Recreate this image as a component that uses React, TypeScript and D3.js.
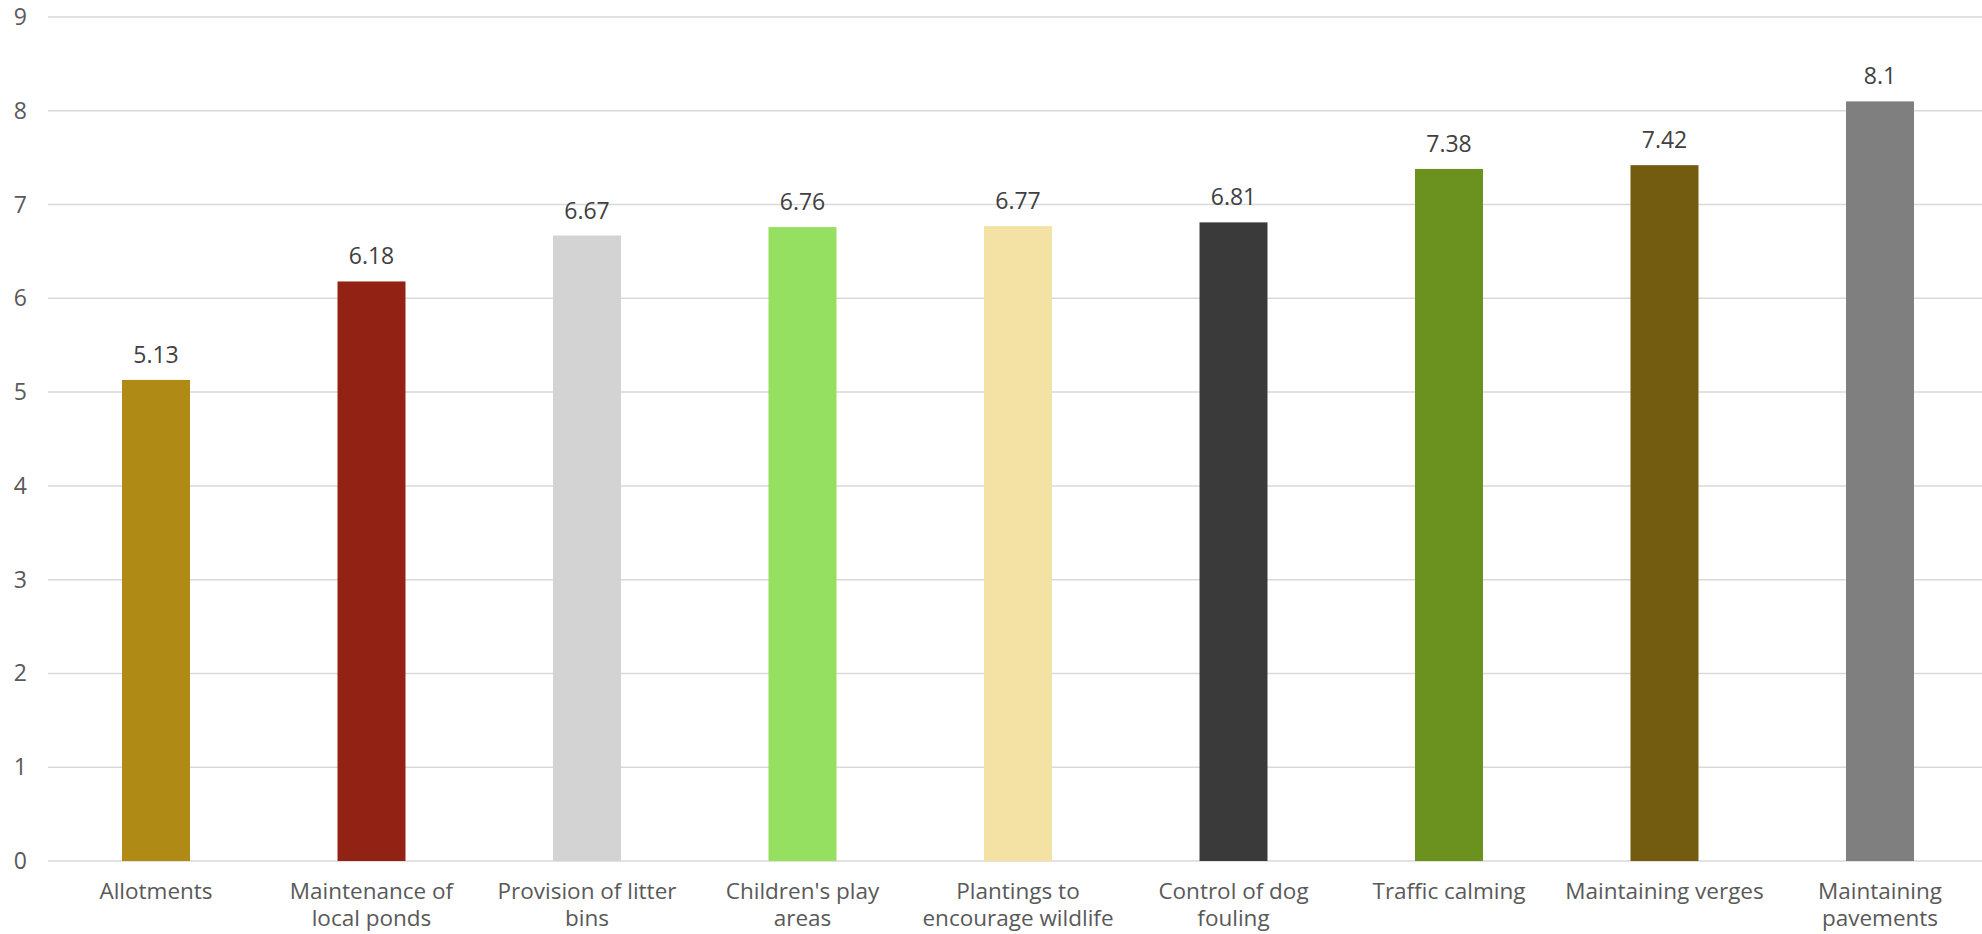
import React from "react";
import * as d3 from "d3";

const categories: string[][] = [
  ["Allotments"],
  ["Maintenance of", "local ponds"],
  ["Provision of litter", "bins"],
  ["Children's play", "areas"],
  ["Plantings to", "encourage wildlife"],
  ["Control of dog", "fouling"],
  ["Traffic calming"],
  ["Maintaining verges"],
  ["Maintaining", "pavements"],
];
const values: number[] = [5.13, 6.18, 6.67, 6.76, 6.77, 6.81, 7.38, 7.42, 8.1];
const valueLabels: string[] = ["5.13", "6.18", "6.67", "6.76", "6.77", "6.81", "7.38", "7.42", "8.1"];
const colors: string[] = [
  "#AF8B15",
  "#922314",
  "#D3D3D3",
  "#96E061",
  "#F4E2A4",
  "#3A3A3A",
  "#6B911E",
  "#735B0F",
  "#7F7F7F",
];
const yTicks: number[] = [0, 1, 2, 3, 4, 5, 6, 7, 8, 9];

const W = 1982;
const H = 934;
const FONT = "'Open Sans', 'DejaVu Sans', sans-serif";

export default function App() {
  const idx = categories.map((_, i) => String(i));
  const x = d3.scaleBand<string>().domain(idx).range([48.25, 1987.75]).paddingInner(0.6845).paddingOuter(0.34225);
  const y = d3.scaleLinear().domain([0, 9]).range([861, 17]);

  return (
    <svg
      width={W}
      height={H}
      style={{ position: "absolute", left: 0, top: 0, background: "#fff" }}
      fontFamily={FONT}
    >
      {yTicks.map((t) => (
        <g key={t}>
          <line x1={48} x2={W} y1={y(t)} y2={y(t)} stroke="#D9D9D9" strokeWidth={1.5} />
          <text x={27} y={y(t)} dy="0.35em" textAnchor="end" fontSize={23} fill="#595959">
            {t}
          </text>
        </g>
      ))}
      {values.map((v, i) => {
        const bx = x(String(i)) as number;
        const bw = x.bandwidth();
        return (
          <g key={i}>
            <rect x={bx} y={y(v)} width={bw} height={y(0) - y(v)} fill={colors[i]} />
            <text x={bx + bw / 2} y={y(v) - 17} textAnchor="middle" fontSize={23} fill="#404040">
              {valueLabels[i]}
            </text>
            <text x={bx + bw / 2} y={899} textAnchor="middle" fontSize={22.5} fill="#595959">
              {categories[i].map((line, j) => (
                <tspan key={j} x={bx + bw / 2} dy={j === 0 ? 0 : 27}>
                  {line}
                </tspan>
              ))}
            </text>
          </g>
        );
      })}
    </svg>
  );
}
